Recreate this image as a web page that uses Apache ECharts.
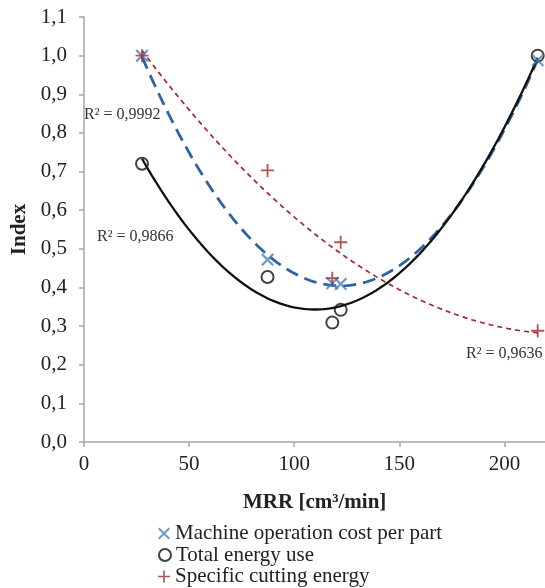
<!DOCTYPE html>
<html>
<head>
<meta charset="utf-8">
<script src="https://cdn.jsdelivr.net/npm/echarts@6/dist/echarts.min.js"></script>
<style>
html,body{margin:0;padding:0;background:#fff;}
#chart{width:545px;height:588px;}
</style>
</head>
<body>
<div id="chart"></div>
<script>
// ---- data ----
var seriesNames = ['Machine operation cost per part', 'Total energy use', 'Specific cutting energy'];
var mrr = [27.6, 87.3, 118.1, 122.1, 215.8];
var machineCost = [1.0, 0.472, 0.411, 0.409, 0.988];
var totalEnergy = [0.72, 0.427, 0.309, 0.342, 1.0];
var specificEnergy = [1.0, 0.703, 0.424, 0.517, 0.288];
var r2Labels = ['R² = 0,9992', 'R² = 0,9866', 'R² = 0,9636'];
var xTicks = [0, 50, 100, 150, 200, 250];
var yTicks = [0, 0.1, 0.2, 0.3, 0.4, 0.5, 0.6, 0.7, 0.8, 0.9, 1.0, 1.1];

// least squares quadratic fit (Excel polynomial order-2 trendline)
function quadFit(xs, ys) {
  var n = xs.length, s = [0,0,0,0,0], t = [0,0,0];
  for (var i = 0; i < n; i++) {
    var x = xs[i], y = ys[i];
    for (var k = 0; k < 5; k++) s[k] += Math.pow(x, k);
    for (var k2 = 0; k2 < 3; k2++) t[k2] += y * Math.pow(x, k2);
  }
  var A = [[s[0], s[1], s[2], t[0]], [s[1], s[2], s[3], t[1]], [s[2], s[3], s[4], t[2]]];
  for (var c = 0; c < 3; c++) {
    var p = c;
    for (var r = c + 1; r < 3; r++) if (Math.abs(A[r][c]) > Math.abs(A[p][c])) p = r;
    var tmp = A[c]; A[c] = A[p]; A[p] = tmp;
    for (var r2 = 0; r2 < 3; r2++) {
      if (r2 === c) continue;
      var f = A[r2][c] / A[c][c];
      for (var k3 = c; k3 < 4; k3++) A[r2][k3] -= f * A[c][k3];
    }
  }
  return [A[0][3] / A[0][0], A[1][3] / A[1][1], A[2][3] / A[2][2]];
}
function trend(xs, ys) {
  var cf = quadFit(xs, ys), out = [];
  var x0 = Math.min.apply(null, xs), x1 = Math.max.apply(null, xs);
  var steps = 120;
  for (var i = 0; i <= steps; i++) {
    var x = x0 + (x1 - x0) * i / steps;
    out.push([x, cf[0] + cf[1] * x + cf[2] * x * x]);
  }
  return out;
}
function pairs(xs, ys) { return xs.map(function (x, i) { return [x, ys[i]]; }); }

var X_PATH = 'path://M0,1.2L1.2,0L5,3.8L8.8,0L10,1.2L6.2,5L10,8.8L8.8,10L5,6.2L1.2,10L0,8.8L3.8,5Z';
var PLUS_PATH = 'path://M4.3,0H5.7V4.3H10V5.7H5.7V10H4.3V5.7H0V4.3H4.3Z';
var SERIF = '"Liberation Serif", "Times New Roman", "DejaVu Serif", serif';

function legendRow(idx, top, icon, style) {
  return {
    orient: 'vertical', left: 158, top: top, padding: 0, itemWidth: 12, itemHeight: 12, itemTextGap: 5,
    selectedMode: false,
    textStyle: {fontFamily: SERIF, fontSize: 21, color: '#222'},
    data: [{name: seriesNames[idx], icon: icon, itemStyle: style}]
  };
}

var chart = echarts.init(document.getElementById('chart'), null, {renderer: 'canvas'});
var option = {
  backgroundColor: '#ffffff',
  animation: false,
  textStyle: {fontFamily: SERIF},
  grid: {left: 84, top: 17, height: 425, width: 525.6, outerBoundsMode: 'none', containLabel: false},
  xAxis: {
    type: 'value', min: xTicks[0], max: xTicks[xTicks.length - 1], interval: 50,
    axisLine: {show: true, lineStyle: {color: '#A6A6A6', width: 1.5}},
    axisTick: {show: true, length: 5, lineStyle: {color: '#A6A6A6', width: 1.5}},
    axisLabel: {fontFamily: SERIF, fontSize: 21, color: '#222', margin: 12},
    splitLine: {show: false}
  },
  yAxis: {
    type: 'value', min: yTicks[0], max: yTicks[yTicks.length - 1], interval: 0.1,
    axisLine: {show: true, lineStyle: {color: '#A6A6A6', width: 1.5}},
    axisTick: {show: true, length: 5, lineStyle: {color: '#A6A6A6', width: 1.5}},
    axisLabel: {fontFamily: SERIF, fontSize: 21, color: '#222', margin: 17,
      formatter: function (v) { return v.toFixed(1).replace('.', ','); }},
    splitLine: {show: false},
    name: 'Index', nameLocation: 'middle', nameGap: 48, nameRotate: 90,
    nameTextStyle: {fontFamily: SERIF, fontSize: 21, fontWeight: 'bold', color: '#222'}
  },
  legend: [
    legendRow(0, 523, X_PATH, {color: '#4A7EBB'}),
    legendRow(1, 544.5, 'circle', {color: 'rgba(0,0,0,0)', borderColor: '#111', borderWidth: 2}),
    legendRow(2, 566, PLUS_PATH, {color: '#A5282C'})
  ],
  graphic: [
    {type: 'text', left: 243, top: 492, style: {text: 'MRR [cm³/min]', font: 'bold 21px ' + SERIF, fill: '#222'}},
    {type: 'text', left: 84, top: 107, style: {text: r2Labels[0], font: '16px ' + SERIF, fill: '#333'}},
    {type: 'text', left: 97, top: 229, style: {text: r2Labels[1], font: '16px ' + SERIF, fill: '#333'}},
    {type: 'text', left: 466, top: 346, style: {text: r2Labels[2], font: '16px ' + SERIF, fill: '#333'}}
  ],
  series: [
    {name: 'trend-se', type: 'line', data: trend(mrr, specificEnergy), showSymbol: false, smooth: false,
      lineStyle: {color: '#A3272B', width: 1.7, type: [5, 4]}, z: 2, silent: true},
    {name: 'trend-mc', type: 'line', data: trend(mrr, machineCost), showSymbol: false, smooth: false,
      lineStyle: {color: '#2E62A3', width: 2.8, type: [13, 7]}, z: 3, silent: true},
    {name: 'trend-te', type: 'line', data: trend(mrr, totalEnergy), showSymbol: false, smooth: false,
      lineStyle: {color: '#111', width: 2.3}, z: 4, silent: true},
    {name: seriesNames[0], type: 'scatter', data: pairs(mrr, machineCost), symbol: X_PATH, symbolSize: 13,
      itemStyle: {color: '#4A7EBB'}, z: 6},
    {name: seriesNames[1], type: 'scatter', data: pairs(mrr, totalEnergy), symbol: 'circle', symbolSize: 12,
      itemStyle: {color: 'rgba(0,0,0,0)', borderColor: '#111', borderWidth: 2}, z: 5},
    {name: seriesNames[2], type: 'scatter', data: pairs(mrr, specificEnergy), symbol: PLUS_PATH, symbolSize: 13,
      itemStyle: {color: '#A5282C'}, z: 7}
  ]
};
chart.setOption(option);
</script>
</body>
</html>
